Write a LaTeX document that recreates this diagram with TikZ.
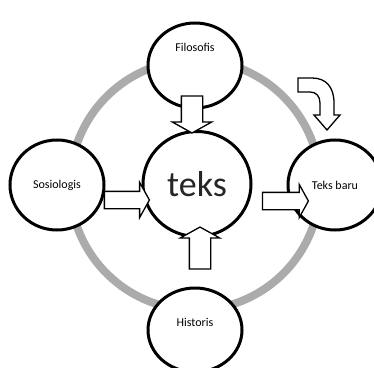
\documentclass[tikz,border=0pt]{standalone}
\usepackage{fontspec}
\setmainfont{Carlito}
\usetikzlibrary{shapes.geometric, shapes.arrows}

\begin{document}
\begin{tikzpicture}[x=1pt, y=1pt,
        circ/.style={ellipse, draw=black, line width=3pt, fill=white, minimum width=94pt, minimum height=86pt, inner sep=0pt, font=\fontsize{12}{14}\selectfont},
        blockarrow/.style={single arrow, draw=black, line width=1.3pt, fill=white, text height=0pt, text depth=0pt, single arrow head extend=9pt, single arrow tip angle=122},
        ring/.style={line width=8pt, draw=black!33}
    ]
        \useasboundingbox (0,0) rectangle (374,367);

        % grey ring behind everything
        \draw[ring] (195,182) circle (125);

        % outer circles
        \node[circ, minimum height=85pt, label={[yshift=18pt, font=\fontsize{12}{14}\selectfont]center:Filosofis}] (filosofis) at (195,301.5) {};
        \node[circ, minimum height=90pt] (sosiologis) at (57,182) {Sosiologis};
        \node[circ, minimum height=90pt] (teksbaru) at (335,182) {Teks baru};
        \node[circ, minimum height=84pt, label={[yshift=8pt, font=\fontsize{12}{14}\selectfont]center:Historis}] (historis) at (195,37) {};

        % centre
        \node[circ, minimum width=108pt, minimum height=105pt, font=\fontsize{36}{40}\selectfont, text=black!85] (teks) at (197,183) {teks};

        % block arrows
        \node[blockarrow, inner xsep=10pt, inner ysep=0pt, minimum height=37pt, shape border rotate=270] (fromfilosofis) at (192,255.5) {};
        \node[blockarrow, inner xsep=10pt, inner ysep=0pt, minimum height=42pt, shape border rotate=90] (fromhistoris) at (200,116) {};
        \node[blockarrow, inner xsep=0pt, inner ysep=8pt, minimum height=45pt] (fromsosiologis) at (124.5,167) {};
        \node[blockarrow, inner xsep=0pt, inner ysep=8pt, minimum height=46pt, single arrow head extend=8pt] (toteksbaru) at (283,166) {};

        % bent arrow down onto teks baru
        \draw[line width=1.3pt, fill=white] (298,289) -- (312,289)
            .. controls (326,289) and (334,280) .. (334,264) -- (334,252)
            -- (340,252) -- (327,237) -- (314,252) -- (320,252) -- (320,264)
            .. controls (320,271) and (316,275) .. (310,275) -- (298,275) -- cycle;
\end{tikzpicture}
\end{document}
